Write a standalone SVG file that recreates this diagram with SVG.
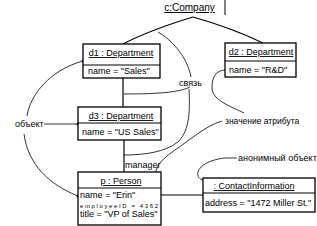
<svg xmlns="http://www.w3.org/2000/svg" width="317" height="226" viewBox="0 0 317 226">
<style>
.box{fill:#fff;stroke:#000;stroke-width:1.3}
.sep{stroke:#000;stroke-width:1}
.t{font-family:"Liberation Sans",Arial,sans-serif;font-size:9px;fill:#000}
.u{text-decoration:underline}
.c{text-anchor:middle}
.link{fill:none;stroke:#000;stroke-width:1.2}
.note{fill:none;stroke:#000;stroke-width:0.8}
.dot{fill:#000}
</style>
<rect width="317" height="226" fill="#fff"/>
<line x1="225" y1="0" x2="225" y2="15" stroke="#000" stroke-width="1"/>
<g id="connectors">
<path class="link" d="M193,17 Q150,30 123,44"/>
<path class="link" d="M193,17 Q232,28 263,43"/>
<path class="link" d="M123,78 V107"/>
<path class="link" d="M124,140 V172"/>
<path class="link" d="M161,195 H203"/>
<path class="note" d="M27,116 C30,95 50,70 83,61"/>
<path class="note" d="M44,124 H78"/>
<path class="note" d="M24,134 C28,165 50,185 78,196"/>
<path class="note" d="M191,77 C188,60 175,42 158,32"/>
<path class="note" d="M190,87 C180,92 160,94 124,94"/>
<path class="note" d="M189,89 C190,110 190,130 178,142 C165,152 145,155 124,155"/>
<path class="note" d="M244,113 C230,106 212,100 212,88 C212,78 215,70 226,70"/>
<path class="note" d="M222,121 C205,126 190,140 175,150 C165,157 160,162 158,166 L147,193"/>
<path class="note" d="M237,158 H224 C210,160 200,165 198,172 C197,177 200,179 203,180"/>
<circle class="dot" cx="83" cy="61" r="1.5"/>
<circle class="dot" cx="78" cy="124" r="1.5"/>
<circle class="dot" cx="78" cy="196" r="1.5"/>
<circle class="dot" cx="147" cy="194" r="1.7"/>
<circle class="dot" cx="226" cy="70" r="1.3"/>
</g>
<g id="company">
<text class="t u c" x="189.5" y="11" style="font-size:10px">c:Company</text>
</g>
<g id="d1">
<rect class="box" x="83" y="44" width="77" height="34"/>
<line class="sep" x1="83" y1="65" x2="160" y2="65"/>
<text class="t u c" x="121" y="56">d1 : Department</text>
<text class="t" x="88" y="74">name = "Sales"</text>
</g>
<g id="d2">
<rect class="box" x="225" y="43" width="71" height="34"/>
<line class="sep" x1="225" y1="61" x2="296" y2="61"/>
<text class="t u c" x="261" y="55">d2 : Department</text>
<text class="t" x="229" y="73">name = "R&amp;D"</text>
</g>
<g id="d3">
<rect class="box" x="78" y="107" width="83" height="33"/>
<line class="sep" x1="78" y1="123" x2="161" y2="123"/>
<text class="t u c" x="121" y="119">d3 : Department</text>
<text class="t" x="82" y="135">name = "US Sales"</text>
</g>
<g id="person">
<rect class="box" x="78" y="172" width="83" height="53"/>
<line class="sep" x1="78" y1="188" x2="161" y2="188"/>
<text class="t u c" x="121" y="184">p : Person</text>
<text class="t" x="80" y="198">name = "Erin"</text>
<text class="t" x="80" y="207.5" style="font-size:6px" textLength="78" lengthAdjust="spacing">employeeID = 4362</text>
<text class="t" x="80" y="217">title = "VP of Sales"</text>
</g>
<g id="contact">
<rect class="box" x="203" y="178" width="112" height="34"/>
<line class="sep" x1="203" y1="193" x2="315" y2="193"/>
<text class="t u c" x="254" y="189">: ContactInformation</text>
<text class="t" x="205" y="206">address = "1472 Miller St."</text>
</g>
<g id="labels">
<text class="t" x="179" y="86">связь</text>
<text class="t" x="15" y="127">объект</text>
<text class="t" x="125" y="168">manager</text>
<text class="t" x="225" y="124" style="font-size:8.5px">значение атрибута</text>
<text class="t" x="238" y="161">анонимный объект</text>
</g>
</svg>
